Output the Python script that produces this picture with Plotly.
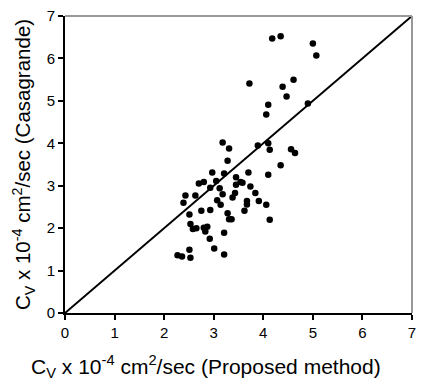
import plotly.graph_objects as go

proposed = [4.18, 4.35, 5.00, 5.07, 3.72, 4.61, 4.39, 4.47, 4.90, 4.10, 4.06,
            3.18, 3.31, 3.89, 4.10, 4.13, 4.56, 4.64, 3.28, 4.35, 2.97, 3.21,
            3.70, 4.10, 3.45, 3.05, 3.54, 3.58, 3.45, 2.70, 2.80, 2.93, 3.12,
            3.74, 2.43, 2.63, 3.18, 3.43, 3.84, 3.38, 2.39, 3.07, 3.14, 3.67,
            3.67, 3.91, 4.06, 2.51, 2.75, 2.93, 3.62, 3.28, 3.31, 3.36, 4.13,
            2.53, 2.58, 2.65, 2.80, 2.87, 2.83, 3.21, 2.92, 3.01, 2.51, 2.27,
            2.36, 2.53, 3.21]
casagrande = [6.47, 6.52, 6.35, 6.07, 5.41, 5.50, 5.33, 5.10, 4.94, 4.91, 4.68,
              4.02, 3.88, 3.95, 4.00, 3.85, 3.86, 3.77, 3.59, 3.48, 3.31, 3.29,
              3.31, 3.26, 3.20, 3.11, 3.09, 3.07, 3.02, 3.05, 3.09, 2.95, 2.94,
              2.98, 2.77, 2.77, 2.80, 2.83, 2.83, 2.72, 2.60, 2.66, 2.55, 2.64,
              2.56, 2.64, 2.55, 2.32, 2.41, 2.43, 2.41, 2.35, 2.21, 2.21, 2.20,
              2.10, 1.98, 2.00, 2.01, 2.03, 1.92, 1.89, 1.75, 1.52, 1.49, 1.36,
              1.33, 1.30, 1.38]
line_x = [0, 7]
line_y = [0, 7]
tick_vals = [0, 1, 2, 3, 4, 5, 6, 7]

fig = go.Figure()
fig.add_trace(go.Scatter(x=line_x, y=line_y, mode="lines",
                         line=dict(color="black", width=2), showlegend=False,
                         cliponaxis=False))
fig.add_trace(go.Scatter(x=proposed, y=casagrande, mode="markers",
                         marker=dict(color="black", size=6.5), showlegend=False))

font = dict(family="Arial, Liberation Sans, sans-serif", color="black")
axis_common = dict(range=[0, 7], tickvals=tick_vals, showgrid=False, zeroline=False,
                   showline=True, linecolor="black", linewidth=2,
                   ticks="outside", ticklen=5, tickwidth=2, tickcolor="black",
                   tickfont=dict(size=15, **font))
fig.update_xaxes(**axis_common)
fig.update_yaxes(**axis_common,
                 title=dict(text="C<sub>V</sub> x 10<sup>-4</sup> cm<sup>2</sup>/sec (Casagrande)",
                            font=dict(size=20.5, **font), standoff=10))
fig.add_annotation(text="C<sub>V</sub> x 10<sup>-4</sup> cm<sup>2</sup>/sec (Proposed method)",
                   xref="paper", yref="paper", x=0.407, y=-0.181,
                   xanchor="center", yanchor="middle", showarrow=False,
                   font=dict(size=21, **font))
fig.add_shape(type="line", xref="x domain", yref="y domain", x0=0, x1=1, y0=1, y1=1,
              line=dict(color="#999999", width=2))
fig.add_shape(type="line", xref="x domain", yref="y domain", x0=1, x1=1, y0=0, y1=1,
              line=dict(color="#999999", width=2))
fig.update_layout(width=423, height=385, margin=dict(l=65, r=7, t=14, b=72),
                  plot_bgcolor="white", paper_bgcolor="white")
fig.write_html("out.html")
